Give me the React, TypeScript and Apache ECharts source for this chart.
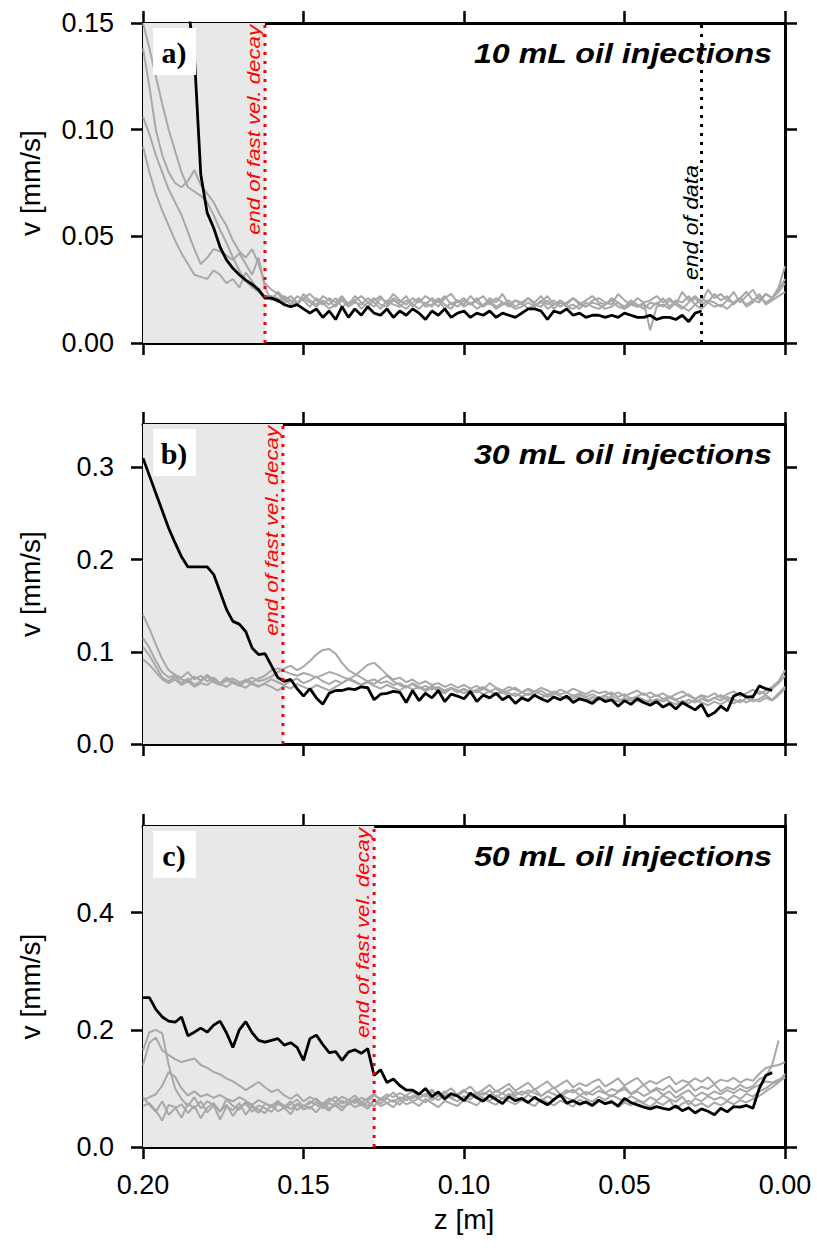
import React, { useEffect, useRef } from "react";
import * as echarts from "echarts";

// ---------------- data ----------------
// sampling positions along z [m] (0.200 -> 0.000, step 0.002)
const zGrid: number[] = Array.from({ length: 101 }, (_, i) => +(0.2 - i * 0.002).toFixed(3));

const xTicks = [0, 0.05, 0.1, 0.15, 0.2];
const yTicksA = [0, 0.05, 0.1, 0.15];
const yTicksB = [0, 0.1, 0.2, 0.3];
const yTicksC = [0, 0.2, 0.4];

// ---- panel a: 10 mL ----
const blackA = [
  0.45, 0.40, 0.34, 0.29, 0.24, 0.20, 0.175, 0.158, 0.135, 0.079,
  0.061, 0.054, 0.045, 0.039, 0.035, 0.032, 0.0295, 0.0275, 0.025, 0.021,
  0.021, 0.020, 0.018, 0.017, 0.018, 0.016, 0.014, 0.016, 0.012, 0.015,
  0.011, 0.017, 0.012, 0.016, 0.013, 0.017, 0.014, 0.013, 0.016, 0.012,
  0.015, 0.013, 0.016, 0.014, 0.011, 0.015, 0.013, 0.016, 0.012, 0.014,
  0.015, 0.012, 0.014, 0.013, 0.015, 0.012, 0.014, 0.013, 0.012, 0.014,
  0.016, 0.016, 0.015, 0.011, 0.015, 0.014, 0.016, 0.013, 0.014, 0.012,
  0.013, 0.013, 0.012, 0.013, 0.012, 0.014, 0.013, 0.012, 0.012, 0.013,
  0.011, 0.012, 0.012, 0.011, 0.013, 0.010, 0.014, 0.015,
];
const greyA1 = [
  0.150, 0.138, 0.125, 0.112, 0.100, 0.090, 0.080, 0.073, 0.071, 0.069, 0.066, 0.060, 0.053, 0.047, 0.040, 0.034, 0.029, 0.026, 0.024, 0.022,
  0.022, 0.021, 0.019, 0.020, 0.018, 0.021, 0.019, 0.017, 0.020, 0.018,
  0.021, 0.017, 0.019, 0.020, 0.016, 0.019, 0.021, 0.018, 0.017, 0.020,
  0.018, 0.016, 0.019, 0.021, 0.017, 0.018, 0.020, 0.016, 0.019, 0.017,
  0.020, 0.018, 0.021, 0.017, 0.019, 0.016, 0.018, 0.020, 0.017, 0.019,
  0.016, 0.018, 0.017, 0.020, 0.016, 0.019, 0.017, 0.018, 0.016, 0.019,
  0.017, 0.016, 0.018, 0.020, 0.017, 0.016, 0.019, 0.017, 0.018, 0.016,
  0.019, 0.017, 0.020, 0.018, 0.016, 0.019, 0.021, 0.018, 0.020, 0.019,
  0.017, 0.020, 0.019, 0.021, 0.018, 0.020, 0.022, 0.019, 0.021, 0.024, 0.028,
];
const greyA2 = [
  0.138, 0.120, 0.100, 0.088, 0.080, 0.075, 0.073, 0.076, 0.081, 0.074, 0.070, 0.066, 0.060, 0.055, 0.048, 0.043, 0.040, 0.044, 0.037, 0.028,
  0.025, 0.023, 0.020, 0.022, 0.019, 0.021, 0.023, 0.020, 0.018, 0.021,
  0.019, 0.022, 0.018, 0.020, 0.022, 0.019, 0.017, 0.021, 0.019, 0.023,
  0.020, 0.018, 0.021, 0.019, 0.022, 0.020, 0.017, 0.021, 0.023, 0.019,
  0.021, 0.018, 0.020, 0.022, 0.018, 0.021, 0.019, 0.017, 0.020, 0.018,
  0.021, 0.019, 0.022, 0.018, 0.020, 0.017, 0.019, 0.021, 0.018, 0.020,
  0.022, 0.019, 0.018, 0.021, 0.019, 0.017, 0.020, 0.018, 0.016, 0.019,
  0.018, 0.021, 0.017, 0.020, 0.019, 0.022, 0.018, 0.021, 0.019, 0.023,
  0.020, 0.022, 0.018, 0.021, 0.024, 0.020, 0.019, 0.023, 0.021, 0.026, 0.036,
];
const greyA3 = [
  0.106, 0.098, 0.088, 0.080, 0.072, 0.066, 0.060, 0.052, 0.044, 0.037, 0.040, 0.044, 0.043, 0.041, 0.039, 0.042, 0.037, 0.032, 0.040, 0.026,
  0.020, 0.024, 0.021, 0.018, 0.022, 0.020, 0.017, 0.021, 0.019, 0.016,
  0.018, 0.020, 0.017, 0.019, 0.018, 0.021, 0.019, 0.016, 0.020, 0.018,
  0.017, 0.020, 0.018, 0.016, 0.019, 0.017, 0.021, 0.018, 0.016, 0.020,
  0.017, 0.019, 0.016, 0.018, 0.020, 0.017, 0.019, 0.018, 0.016, 0.017,
  0.019, 0.017, 0.020, 0.016, 0.018, 0.019, 0.017, 0.016, 0.018, 0.017,
  0.019, 0.018, 0.016, 0.017, 0.019, 0.016, 0.018, 0.017, 0.019, 0.006,
  0.017, 0.018, 0.016, 0.019, 0.017, 0.015, 0.018, 0.016, 0.019, 0.017,
  0.018, 0.016, 0.019, 0.021, 0.017, 0.019, 0.023, 0.018, 0.020, 0.022, 0.024,
];
const greyA4 = [
  0.092, 0.080, 0.070, 0.062, 0.055, 0.048, 0.042, 0.037, 0.032, 0.031, 0.030, 0.034, 0.032, 0.028, 0.030, 0.026, 0.033, 0.029, 0.024, 0.021,
  0.021, 0.019, 0.022, 0.020, 0.018, 0.023, 0.020, 0.018, 0.022, 0.020,
  0.017, 0.021, 0.018, 0.022, 0.019, 0.017, 0.020, 0.022, 0.018, 0.021,
  0.019, 0.022, 0.017, 0.020, 0.018, 0.021, 0.019, 0.022, 0.018, 0.020,
  0.018, 0.022, 0.019, 0.017, 0.021, 0.019, 0.023, 0.018, 0.020, 0.019,
  0.021, 0.018, 0.019, 0.022, 0.018, 0.020, 0.018, 0.021, 0.019, 0.017,
  0.020, 0.021, 0.019, 0.018, 0.023, 0.020, 0.018, 0.021, 0.019, 0.020,
  0.022, 0.019, 0.021, 0.018, 0.024, 0.020, 0.022, 0.019, 0.025, 0.021,
  0.023, 0.020, 0.024, 0.019, 0.022, 0.025, 0.020, 0.023, 0.021, 0.025, 0.030,
];

// ---- panel b: 30 mL ----
const blackB = [
  0.310, 0.291, 0.272, 0.253, 0.234, 0.218, 0.203, 0.192, 0.192, 0.192,
  0.192, 0.184, 0.165, 0.146, 0.133, 0.130, 0.122, 0.104, 0.097, 0.098,
  0.085, 0.072, 0.068, 0.070, 0.060, 0.052, 0.060, 0.050, 0.043, 0.055,
  0.058, 0.058, 0.060, 0.059, 0.062, 0.061, 0.048, 0.054, 0.055, 0.057,
  0.056, 0.045, 0.058, 0.047, 0.055, 0.050, 0.058, 0.046, 0.054, 0.052,
  0.049, 0.057, 0.046, 0.053, 0.050, 0.055, 0.048, 0.052, 0.044, 0.050,
  0.047, 0.053, 0.049, 0.046, 0.051, 0.048, 0.052, 0.045, 0.049, 0.047,
  0.044, 0.050, 0.046, 0.048, 0.041, 0.047, 0.043, 0.049, 0.045, 0.042,
  0.046, 0.040, 0.044, 0.038, 0.045, 0.041, 0.037, 0.043, 0.030, 0.034,
  0.041, 0.036, 0.052, 0.055, 0.051, 0.051, 0.063, 0.060, 0.058,
];
const greyB1 = [
  0.140, 0.125, 0.108, 0.092, 0.080, 0.075, 0.072, 0.078, 0.070, 0.074, 0.068, 0.072, 0.066, 0.070, 0.071, 0.067, 0.069, 0.072, 0.068, 0.070,
  0.073, 0.078, 0.082, 0.085, 0.080, 0.084, 0.090, 0.097, 0.102, 0.103,
  0.098, 0.088, 0.080, 0.076, 0.072, 0.068, 0.070, 0.066, 0.068, 0.064,
  0.066, 0.062, 0.065, 0.060, 0.063, 0.059, 0.062, 0.058, 0.061, 0.057,
  0.060, 0.056, 0.059, 0.062, 0.057, 0.060, 0.055, 0.058, 0.061, 0.056,
  0.059, 0.055, 0.058, 0.053, 0.057, 0.054, 0.056, 0.052, 0.055, 0.051,
  0.054, 0.050, 0.053, 0.056, 0.051, 0.054, 0.049, 0.052, 0.055, 0.050,
  0.053, 0.049, 0.052, 0.048, 0.051, 0.054, 0.049, 0.052, 0.047, 0.050,
  0.053, 0.048, 0.051, 0.055, 0.050, 0.053, 0.057, 0.054, 0.060, 0.066, 0.074,
];
const greyB2 = [
  0.115, 0.104, 0.090, 0.078, 0.072, 0.075, 0.070, 0.068, 0.073, 0.069, 0.075, 0.070, 0.066, 0.072, 0.068, 0.065, 0.070, 0.067, 0.071, 0.074,
  0.080, 0.082, 0.079, 0.076, 0.074, 0.077, 0.075, 0.072, 0.075, 0.078,
  0.076, 0.073, 0.070, 0.074, 0.080, 0.086, 0.088, 0.082, 0.075, 0.070,
  0.072, 0.067, 0.070, 0.065, 0.068, 0.064, 0.066, 0.062, 0.065, 0.061,
  0.064, 0.060, 0.063, 0.059, 0.066, 0.061, 0.058, 0.062, 0.059, 0.056,
  0.060, 0.057, 0.061, 0.058, 0.055, 0.059, 0.056, 0.060, 0.057, 0.054,
  0.058, 0.055, 0.057, 0.053, 0.056, 0.052, 0.055, 0.058, 0.053, 0.056,
  0.052, 0.055, 0.050, 0.054, 0.057, 0.052, 0.049, 0.053, 0.051, 0.055,
  0.050, 0.054, 0.057, 0.052, 0.055, 0.059, 0.054, 0.058, 0.062, 0.068, 0.080,
];
const greyB3 = [
  0.105, 0.096, 0.084, 0.072, 0.068, 0.073, 0.066, 0.071, 0.064, 0.068, 0.073, 0.067, 0.064, 0.069, 0.066, 0.063, 0.068, 0.065, 0.062, 0.066,
  0.070, 0.067, 0.064, 0.068, 0.071, 0.066, 0.069, 0.073, 0.068, 0.065,
  0.069, 0.066, 0.070, 0.067, 0.064, 0.068, 0.065, 0.070, 0.074, 0.068,
  0.064, 0.061, 0.066, 0.062, 0.059, 0.063, 0.060, 0.057, 0.061, 0.058,
  0.055, 0.059, 0.056, 0.060, 0.057, 0.054, 0.058, 0.055, 0.052, 0.056,
  0.053, 0.057, 0.054, 0.051, 0.055, 0.052, 0.049, 0.053, 0.050, 0.047,
  0.051, 0.048, 0.052, 0.049, 0.046, 0.050, 0.047, 0.051, 0.048, 0.045,
  0.049, 0.046, 0.050, 0.047, 0.044, 0.048, 0.045, 0.049, 0.046, 0.050,
  0.047, 0.051, 0.048, 0.045, 0.050, 0.046, 0.049, 0.053, 0.048, 0.055, 0.062,
];
const greyB4 = [
  0.092, 0.086, 0.078, 0.070, 0.066, 0.070, 0.064, 0.068, 0.062, 0.066, 0.064, 0.069, 0.065, 0.062, 0.067, 0.064, 0.061, 0.066, 0.063, 0.065,
  0.062, 0.058, 0.063, 0.060, 0.065, 0.062, 0.059, 0.064, 0.061, 0.058,
  0.062, 0.066, 0.071, 0.068, 0.064, 0.067, 0.063, 0.060, 0.064, 0.061,
  0.058, 0.063, 0.059, 0.062, 0.057, 0.061, 0.058, 0.055, 0.060, 0.056,
  0.059, 0.055, 0.058, 0.054, 0.057, 0.053, 0.056, 0.052, 0.055, 0.051,
  0.055, 0.052, 0.050, 0.054, 0.051, 0.048, 0.052, 0.049, 0.053, 0.050,
  0.047, 0.051, 0.048, 0.052, 0.049, 0.046, 0.050, 0.047, 0.044, 0.048,
  0.045, 0.049, 0.046, 0.043, 0.047, 0.044, 0.048, 0.045, 0.042, 0.046,
  0.043, 0.047, 0.044, 0.048, 0.045, 0.049, 0.046, 0.050, 0.047, 0.053, 0.060,
];

// ---- panel c: 50 mL ----
const blackC = [
  0.255, 0.255, 0.235, 0.222, 0.215, 0.213, 0.222, 0.190, 0.196, 0.203,
  0.196, 0.208, 0.215, 0.195, 0.170, 0.200, 0.214, 0.195, 0.182, 0.179,
  0.182, 0.185, 0.174, 0.178, 0.170, 0.148, 0.185, 0.191, 0.175, 0.161,
  0.163, 0.148, 0.162, 0.166, 0.160, 0.168, 0.122, 0.132, 0.110, 0.116,
  0.105, 0.097, 0.097, 0.090, 0.100, 0.086, 0.094, 0.082, 0.091, 0.087,
  0.079, 0.092, 0.084, 0.078, 0.088, 0.081, 0.074, 0.086, 0.079, 0.083,
  0.076, 0.085, 0.078, 0.072, 0.081, 0.089, 0.075, 0.079, 0.073, 0.077,
  0.071, 0.080, 0.074, 0.077, 0.070, 0.083, 0.076, 0.072, 0.068, 0.065,
  0.069, 0.066, 0.064, 0.070, 0.062, 0.067, 0.058, 0.065, 0.061, 0.055,
  0.066, 0.060, 0.069, 0.068, 0.071, 0.066, 0.100, 0.122, 0.127,
];
const greyC1 = [
  0.165, 0.196, 0.200, 0.194, 0.140, 0.100, 0.082, 0.070, 0.085, 0.066, 0.078, 0.072, 0.060, 0.081, 0.070, 0.064, 0.077, 0.068, 0.058, 0.074,
  0.070, 0.079, 0.066, 0.073, 0.081, 0.069, 0.075, 0.083, 0.072, 0.078,
  0.086, 0.074, 0.080, 0.088, 0.076, 0.083, 0.091, 0.079, 0.085, 0.093,
  0.081, 0.088, 0.095, 0.084, 0.090, 0.098, 0.087, 0.093, 0.100, 0.089,
  0.096, 0.103, 0.091, 0.098, 0.106, 0.094, 0.101, 0.108, 0.096, 0.103,
  0.110, 0.098, 0.105, 0.112, 0.100, 0.107, 0.114, 0.102, 0.109, 0.104,
  0.111, 0.116, 0.103, 0.110, 0.117, 0.105, 0.112, 0.118, 0.106, 0.113,
  0.108, 0.115, 0.120, 0.107, 0.114, 0.110, 0.117, 0.111, 0.119, 0.108,
  0.115, 0.112, 0.118, 0.110, 0.116, 0.113, 0.125, 0.135, 0.138, 0.140, 0.145,
];
const greyC2 = [
  0.140, 0.178, 0.187, 0.165, 0.157, 0.150, 0.145, 0.148, 0.151, 0.140, 0.135, 0.128, 0.124, 0.117, 0.112, 0.105, 0.097, 0.104, 0.111, 0.102,
  0.094, 0.098, 0.088, 0.082, 0.090, 0.078, 0.085, 0.080, 0.074, 0.083,
  0.077, 0.086, 0.080, 0.075, 0.084, 0.079, 0.088, 0.082, 0.090, 0.085,
  0.092, 0.087, 0.083, 0.091, 0.086, 0.094, 0.089, 0.084, 0.092, 0.087,
  0.095, 0.090, 0.085, 0.093, 0.088, 0.096, 0.091, 0.086, 0.094, 0.089,
  0.097, 0.092, 0.087, 0.095, 0.090, 0.085, 0.093, 0.098, 0.088, 0.094,
  0.089, 0.096, 0.091, 0.086, 0.094, 0.099, 0.090, 0.095, 0.087, 0.093,
  0.098, 0.089, 0.095, 0.084, 0.091, 0.097, 0.086, 0.093, 0.088, 0.095,
  0.090, 0.097, 0.092, 0.099, 0.094, 0.101, 0.106, 0.112, 0.110, 0.115, 0.120,
];
const greyC3 = [
  0.080, 0.085, 0.090, 0.105, 0.128, 0.120, 0.100, 0.088, 0.095, 0.086, 0.090, 0.084, 0.089, 0.082, 0.078, 0.085, 0.079, 0.072, 0.080, 0.075,
  0.068, 0.077, 0.071, 0.065, 0.074, 0.069, 0.078, 0.072, 0.066, 0.075,
  0.070, 0.079, 0.073, 0.082, 0.076, 0.070, 0.080, 0.074, 0.083, 0.077,
  0.085, 0.079, 0.088, 0.082, 0.076, 0.086, 0.080, 0.089, 0.083, 0.078,
  0.087, 0.081, 0.090, 0.084, 0.079, 0.088, 0.082, 0.091, 0.085, 0.080,
  0.089, 0.083, 0.078, 0.087, 0.081, 0.090, 0.084, 0.079, 0.088, 0.082,
  0.077, 0.086, 0.080, 0.089, 0.083, 0.078, 0.087, 0.081, 0.076, 0.085,
  0.079, 0.088, 0.082, 0.077, 0.086, 0.072, 0.083, 0.078, 0.087, 0.081,
  0.085, 0.079, 0.088, 0.082, 0.091, 0.086, 0.095, 0.100, 0.108, 0.112, 0.118,
];
const greyC4 = [
  0.070, 0.075, 0.062, 0.045, 0.072, 0.068, 0.050, 0.074, 0.066, 0.078, 0.059, 0.071, 0.047, 0.069, 0.063, 0.075, 0.055, 0.070, 0.064, 0.058,
  0.072, 0.061, 0.067, 0.056, 0.073, 0.064, 0.069, 0.059, 0.074, 0.066,
  0.071, 0.062, 0.076, 0.068, 0.073, 0.065, 0.079, 0.070, 0.075, 0.068,
  0.080, 0.073, 0.077, 0.070, 0.082, 0.075, 0.068, 0.079, 0.074, 0.070,
  0.081, 0.076, 0.071, 0.083, 0.077, 0.072, 0.084, 0.078, 0.073, 0.080,
  0.075, 0.070, 0.082, 0.076, 0.071, 0.079, 0.074, 0.069, 0.081, 0.075,
  0.070, 0.078, 0.073, 0.080, 0.068, 0.076, 0.071, 0.079, 0.074, 0.069,
  0.077, 0.072, 0.080, 0.066, 0.074, 0.079, 0.070, 0.075, 0.068, 0.076,
  0.071, 0.078, 0.073, 0.080, 0.076, 0.082, 0.087, 0.095, 0.102, 0.110, 0.125,
];
const greyC5 = [
  0.085, 0.072, 0.060, 0.078, 0.055, 0.066, 0.073, 0.058, 0.070, 0.049, 0.067, 0.075, 0.061, 0.072, 0.053, 0.068, 0.074, 0.060, 0.071, 0.066,
  0.060, 0.074, 0.068, 0.078, 0.063, 0.071, 0.065, 0.077, 0.069, 0.062,
  0.076, 0.068, 0.073, 0.080, 0.071, 0.077, 0.069, 0.083, 0.075, 0.080,
  0.072, 0.085, 0.078, 0.083, 0.091, 0.080, 0.087, 0.095, 0.084, 0.090,
  0.098, 0.086, 0.093, 0.089, 0.097, 0.085, 0.092, 0.100, 0.088, 0.095,
  0.091, 0.099, 0.087, 0.094, 0.102, 0.090, 0.097, 0.093, 0.101, 0.089,
  0.096, 0.104, 0.092, 0.099, 0.095, 0.103, 0.091, 0.098, 0.106, 0.094,
  0.101, 0.097, 0.105, 0.093, 0.100, 0.108, 0.096, 0.103, 0.099, 0.107,
  0.095, 0.102, 0.098, 0.106, 0.100, 0.104, 0.116, 0.120, 0.140, 0.182,
];

const panels = [
  { label: "a)", title: "10 mL oil injections", yMax: 0.15, yTicks: yTicksA, dec: 2, decayEnd: 0.162, dataEnd: 0.026, greys: [greyA1, greyA2, greyA3, greyA4], black: blackA },
  { label: "b)", title: "30 mL oil injections", yMax: 0.347, yTicks: yTicksB, dec: 1, decayEnd: 0.1564, dataEnd: null as number | null, greys: [greyB1, greyB2, greyB3, greyB4], black: blackB },
  { label: "c)", title: "50 mL oil injections", yMax: 0.548, yTicks: yTicksC, dec: 1, decayEnd: 0.128, dataEnd: null as number | null, greys: [greyC1, greyC2, greyC3, greyC4, greyC5], black: blackC },
];

// ---------------- layout / style ----------------
const W = 817;
const H = 1253;
const PLOT_LEFT = 143;
const PLOT_RIGHT = 785;
const PANEL_TOPS = [23, 424, 826];
const PANEL_HEIGHTS = [320, 320, 321];
const SANS = "'Liberation Sans', Arial, Helvetica, sans-serif";
const SERIF = "'Liberation Serif', 'Times New Roman', serif";
const GREY = "#a8a8a8";
const SHADE = "#e8e8e8";

const zToPx = (z: number) => PLOT_LEFT + ((0.2 - z) / 0.2) * (PLOT_RIGHT - PLOT_LEFT);

const toPairs = (vals: number[]) => vals.map((v, i) => [zGrid[i], v]);

function buildOption() {
  const axisLine = { show: true, onZero: false, lineStyle: { color: "#000", width: 3 } };
  const tick = (vals: number[]) => ({
    show: true,
    inside: false,
    length: 12,
    lineStyle: { color: "#000", width: 2.5 },
    customValues: vals,
  });

  const grid: any[] = [];
  const xAxis: any[] = [];
  const yAxis: any[] = [];
  const series: any[] = [];
  const graphics: any[] = [];

  panels.forEach((p, i) => {
    const top = PANEL_TOPS[i];
    grid.push({ left: PLOT_LEFT, right: W - PLOT_RIGHT, top, height: PANEL_HEIGHTS[i], containLabel: false });
    const isLast = i === panels.length - 1;
    xAxis.push({
      type: "value",
      gridIndex: i,
      position: "bottom",
      min: 0,
      max: 0.2,
      inverse: true,
      axisLine,
      axisTick: tick(xTicks),
      axisLabel: isLast
        ? {
            show: true,
            customValues: xTicks,
            formatter: (v: number) => v.toFixed(2),
            fontSize: 27,
            fontFamily: SANS,
            color: "#000",
            margin: 24,
          }
        : { show: false },
      splitLine: { show: false },
      name: isLast ? "z [m]" : "",
      nameLocation: "middle",
      nameGap: 58,
      nameTextStyle: { fontSize: 28, fontFamily: SANS, color: "#000" },
    });
    xAxis.push({
      type: "value",
      gridIndex: i,
      position: "top",
      min: 0,
      max: 0.2,
      inverse: true,
      axisLine,
      axisTick: tick(xTicks),
      axisLabel: { show: false },
      splitLine: { show: false },
    });
    yAxis.push({
      type: "value",
      gridIndex: i,
      position: "left",
      min: 0,
      max: p.yMax,
      axisLine,
      axisTick: tick(p.yTicks),
      axisLabel: {
        show: true,
        customValues: p.yTicks,
        formatter: (v: number) => v.toFixed(p.dec),
        fontSize: 27,
        fontFamily: SANS,
        color: "#000",
        margin: 29,
      },
      splitLine: { show: false },
      name: "v [mm/s]",
      nameLocation: "middle",
      nameRotate: 90,
      nameGap: 99,
      nameTextStyle: { fontSize: 28, fontFamily: SANS, color: "#000" },
    });
    yAxis.push({
      type: "value",
      gridIndex: i,
      position: "right",
      min: 0,
      max: p.yMax,
      axisLine,
      axisTick: tick(p.yTicks),
      axisLabel: { show: false },
      splitLine: { show: false },
    });

    const xi = i * 2;
    const yi = i * 2;
    series.push({
      type: "line",
      xAxisIndex: xi,
      yAxisIndex: yi,
      data: [],
      silent: true,
      z: 1,
      markArea: {
        silent: true,
        itemStyle: { color: SHADE },
        data: [[{ xAxis: 0.2 }, { xAxis: p.decayEnd }]],
      },
    });
    p.greys.forEach((g) => {
      series.push({
        type: "line",
        xAxisIndex: xi,
        yAxisIndex: yi,
        data: toPairs(g),
        showSymbol: false,
        symbol: "none",
        clip: true,
        silent: true,
        z: 2,
        lineStyle: { color: GREY, width: 2 },
      });
    });
    series.push({
      type: "line",
      xAxisIndex: xi,
      yAxisIndex: yi,
      data: toPairs(p.black),
      showSymbol: false,
      symbol: "none",
      clip: true,
      silent: true,
      z: 3,
      lineStyle: { color: "#000", width: 2.8 },
    });
    series.push({
      type: "line",
      xAxisIndex: xi,
      yAxisIndex: yi,
      data: [[p.decayEnd, 0], [p.decayEnd, p.yMax]],
      showSymbol: false,
      symbol: "none",
      silent: true,
      z: 4,
      lineStyle: { color: "#ff0000", type: [3, 6], width: 3 },
    });
    if (p.dataEnd !== null) {
      series.push({
        type: "line",
        xAxisIndex: xi,
        yAxisIndex: yi,
        data: [[p.dataEnd, 0], [p.dataEnd, p.yMax]],
        showSymbol: false,
        symbol: "none",
        silent: true,
        z: 4,
        lineStyle: { color: "#000", type: [3, 6], width: 3 },
      });
    }

    graphics.push({
      type: "rect",
      shape: { x: PLOT_LEFT + 10, y: top + 5, width: 43, height: 47 },
      style: { fill: "#fff" },
      z: 100,
    });
    graphics.push({
      type: "text",
      x: PLOT_LEFT + 31,
      y: top + 29,
      z: 101,
      style: { text: p.label, fontSize: 30, fontWeight: "bold", fontFamily: SERIF, fill: "#000", align: "center", verticalAlign: "middle" },
    });
    graphics.push({
      type: "text",
      x: 772,
      y: top + 30,
      scaleX: 1.15,
      z: 101,
      style: { text: p.title, fontSize: 28, fontWeight: "bold", fontStyle: "italic", fontFamily: SANS, fill: "#000", align: "right", verticalAlign: "middle" },
    });
    graphics.push({
      type: "text",
      x: zToPx(p.decayEnd) - 12,
      y: top + 2,
      rotation: Math.PI / 2,
      scaleX: 1.17,
      z: 101,
      style: { text: "end of fast vel. decay", fontSize: 19, fontStyle: "italic", fontFamily: SANS, fill: "#ff0000", align: "right", verticalAlign: "middle" },
    });
    if (p.dataEnd !== null) {
      graphics.push({
        type: "text",
        x: zToPx(p.dataEnd) - 10,
        y: top + 142,
        rotation: Math.PI / 2,
        scaleX: 1.15,
        z: 101,
        style: { text: "end of data", fontSize: 20, fontStyle: "italic", fontFamily: SANS, fill: "#000", align: "right", verticalAlign: "middle" },
      });
    }
  });

  return {
    animation: false,
    backgroundColor: "#fff",
    grid,
    xAxis,
    yAxis,
    series,
    graphic: { elements: graphics },
  };
}

export default function App() {
  const ref = useRef<HTMLDivElement>(null);
  useEffect(() => {
    if (!ref.current) return;
    const chart = echarts.init(ref.current, null, { renderer: "svg", width: W, height: H });
    chart.setOption(buildOption() as any);
    return () => chart.dispose();
  }, []);
  return (
    <div
      ref={ref}
      style={{ position: "absolute", left: 0, top: 0, width: W, height: H, background: "#fff" }}
    />
  );
}
